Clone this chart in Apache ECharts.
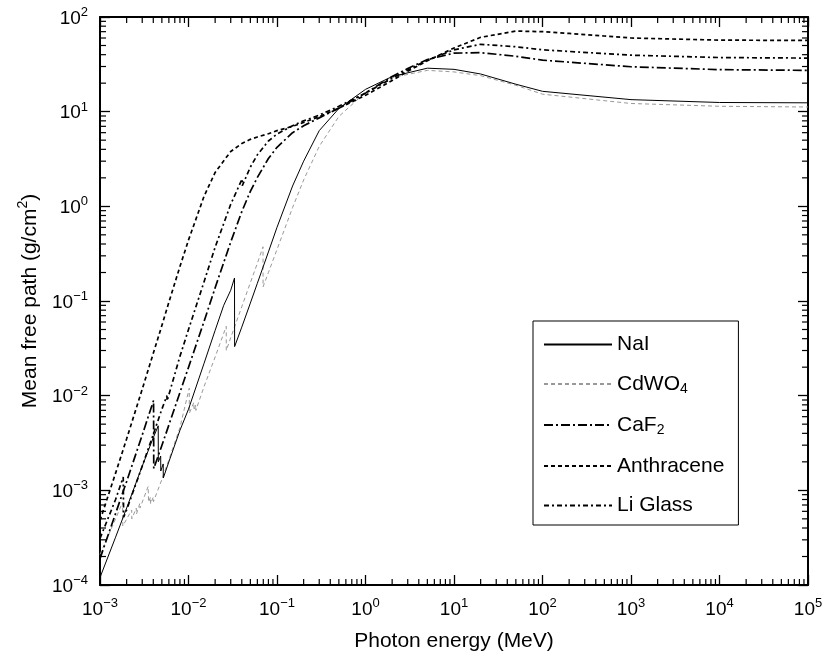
<!DOCTYPE html>
<html>
<head>
<meta charset="utf-8">
<script src="https://cdn.jsdelivr.net/npm/echarts@6/dist/echarts.min.js"></script>
<style>
html,body{margin:0;padding:0;background:#fff;}
#c{width:826px;height:657px;}
</style>
</head>
<body>
<div id="c"></div>
<script>
// ---- Data (photon energy in MeV, mean free path in g/cm^2) ----
const naiE = [0.001,0.0015,0.002,0.003,0.004,0.00455,0.00456,0.00485,0.00486,0.00518,0.00519,0.006,0.008,0.01,0.015,0.02,0.025,0.03,0.0331,0.0332,0.04,0.05,0.06,0.08,0.1,0.15,0.2,0.3,0.5,1,2,5,10,20,50,100,1000,10000,100000];
const naiV = [1.2e-4,3.2e-4,6.5e-4,1.8e-3,3.6e-3,4.8e-3,2.0e-3,2.3e-3,1.6e-3,1.9e-3,1.35e-3,2.0e-3,4.3e-3,7.2e-3,2.2e-2,4.9e-2,9.0e-2,0.13,0.175,0.033,0.053,0.095,0.154,0.33,0.6,1.64,3.0,6.3,10.8,17.2,23.5,28.8,28.0,25.0,19.5,16.4,13.4,12.5,12.4];

const cdwoE = [0.001,0.0015,0.0018,0.00181,0.00228,0.00229,0.00257,0.00258,0.00282,0.00283,0.0035,0.00354,0.00372,0.00373,0.004,0.00402,0.005,0.006,0.008,0.0102,0.01021,0.0115,0.01155,0.0121,0.01211,0.015,0.02,0.0267,0.02672,0.03,0.04,0.05,0.06,0.0695,0.0696,0.08,0.1,0.15,0.2,0.3,0.5,1,2,5,10,20,50,100,1000,10000,100000];
const cdwoV = [2.1e-4,5.0e-4,7.5e-4,4.2e-4,6.2e-4,5.0e-4,6.5e-4,5.6e-4,7.3e-4,6.5e-4,1.1e-3,7.5e-4,8.5e-4,7.2e-4,8.5e-4,7.6e-4,1.3e-3,2.1e-3,4.6e-3,1.2e-2,6.5e-3,8.5e-3,7.0e-3,8.0e-3,7.0e-3,1.25e-2,2.56e-2,5.4e-2,3.0e-2,4.1e-2,8.7e-2,0.156,0.25,0.374,0.141,0.2,0.35,0.97,1.9,4.3,8.9,16,22.9,27.3,26.3,24.0,19.0,15.3,12.2,11.4,11.2];

const caf2E = [0.001,0.0015,0.002,0.003,0.00403,0.00405,0.005,0.006,0.008,0.01,0.015,0.02,0.03,0.04,0.05,0.06,0.08,0.1,0.15,0.2,0.3,0.5,1,2,3,5,10,20,50,100,1000,10000,100000];
const caf2V = [1.9e-4,5.7e-4,1.24e-3,3.84e-3,8.9e-3,1.7e-3,2.98e-3,4.9e-3,1.08e-2,1.99e-2,6.1e-2,0.138,0.42,0.88,1.44,2.02,3.2,4.2,6.0,7.1,8.6,10.9,15.7,23.5,28.6,35.5,41.5,42,38.5,35,29.8,27.8,27.3];

const anthE = [0.001,0.0015,0.002,0.003,0.004,0.005,0.006,0.008,0.01,0.015,0.02,0.03,0.04,0.05,0.06,0.08,0.1,0.15,0.2,0.3,0.5,1,2,3,5,10,20,50,100,200,500,1000,10000,100000];
const anthV = [4.8e-4,1.52e-3,3.5e-3,1.17e-2,2.8e-2,5.5e-2,9.7e-2,0.231,0.44,1.28,2.28,3.8,4.6,5.1,5.4,5.85,6.3,7.0,7.7,8.85,10.9,14.9,21.3,26.7,34.5,47,61,71,70,67,63,60,57,56.5];

const liE = [0.001,0.0015,0.00183,0.00185,0.002,0.003,0.004,0.005,0.0057,0.00573,0.008,0.01,0.015,0.02,0.03,0.0404,0.0405,0.05,0.06,0.08,0.1,0.15,0.2,0.3,0.5,1,2,3,5,10,20,50,100,1000,10000,100000];
const liV = [3.1e-4,8.0e-4,1.38e-3,5.2e-4,6.2e-4,1.8e-3,3.9e-3,7.2e-3,1.0e-2,8.8e-3,2.6e-2,5.0e-2,0.16,0.37,1.05,1.95,1.65,2.6,3.5,4.9,5.8,7.1,8.0,9.2,11.4,15.7,22.5,27.5,35,45,51.5,48.5,45,39.5,37.3,36.8];

const xTickExps = [-3,-2,-1,0,1,2,3,4,5];
const yTickExps = [-4,-3,-2,-1,0,1,2];
const minorMult = [2,3,4,5,6,7,8,9];

const pairs = (E, V) => E.map((e, i) => [e, V[i]]);
const minorX = []; xTickExps.slice(0, -1).forEach(d => minorMult.forEach(m => minorX.push(m * Math.pow(10, d))));
const minorY = []; yTickExps.slice(0, -1).forEach(d => minorMult.forEach(m => minorY.push(m * Math.pow(10, d))));

const FONT = 'Liberation Sans, Arial, Helvetica, sans-serif';
const supLabel = v => {
  const e = Math.round(Math.log10(v));
  return '{b|10}{s|' + (e < 0 ? '\u2212' + (-e) : String(e)) + '}';
};
const labelRich = {
  b: {fontSize: 19, fontFamily: FONT, color: '#000', lineHeight: 22, verticalAlign: 'bottom'},
  s: {fontSize: 13, fontFamily: FONT, color: '#000', lineHeight: 13, verticalAlign: 'top'}
};

const chart = echarts.init(document.getElementById('c'), null, {renderer: 'canvas'});
const XMIN = 1e-3, XMAX = 1e5, YMIN = 1e-4, YMAX = 1e2;

const baseAxis = {
  type: 'log', logBase: 10,
  axisLine: {show: true, onZero: false, lineStyle: {color: '#000', width: 2}},
  axisTick: {show: true, inside: true, length: 10, lineStyle: {color: '#000', width: 1.3}},
  splitLine: {show: false},
  minorTick: {show: false}
};

const option = {
  animation: false,
  backgroundColor: '#fff',
  grid: {left: 100, right: 18, top: 17, bottom: 70, containLabel: false},
  legend: {
    show: true,
    orient: 'vertical',
    left: 533, top: 321,
    padding: [13, 14, 9, 10],
    itemWidth: 68, itemHeight: 16, itemGap: 18.5,
    borderColor: '#000', borderWidth: 1,
    itemStyle: {opacity: 0},
    data: ['NaI', 'CdWO4', 'CaF2', 'Anthracene', 'Li Glass'],
    formatter: name => {
      if (name === 'CdWO4') return '{n|CdWO}{sub|4}';
      if (name === 'CaF2') return '{n|CaF}{sub|2}';
      return '{n|' + name + '}';
    },
    textStyle: {
      fontFamily: FONT, fontSize: 21, color: '#000',
      rich: {
        n: {fontSize: 21, fontFamily: FONT, color: '#000'},
        sub: {fontSize: 14, fontFamily: FONT, color: '#000', padding: [10, 0, 0, 0]}
      }
    }
  },
  xAxis: [
    Object.assign({}, baseAxis, {
      position: 'bottom', min: XMIN, max: XMAX, splitNumber: 8,
      axisLabel: {show: true, margin: 12, formatter: supLabel, rich: labelRich, showMinLabel: true, showMaxLabel: true},
      name: 'Photon energy (MeV)', nameLocation: 'middle', nameGap: 46,
      nameTextStyle: {fontFamily: FONT, fontSize: 21, color: '#000'}
    }),
    Object.assign({}, baseAxis, {
      position: 'top', min: XMIN, max: XMAX, splitNumber: 8,
      axisLabel: {show: false}
    })
  ],
  yAxis: [
    Object.assign({}, baseAxis, {
      position: 'left', min: YMIN, max: YMAX, splitNumber: 6,
      axisLabel: {show: true, margin: 12, formatter: supLabel, rich: labelRich, showMinLabel: true, showMaxLabel: true},
      name: '{t|Mean free path (g/cm}{u|2}{t|)}', nameLocation: 'middle', nameGap: 59, nameRotate: 90,
      nameTextStyle: {
        fontFamily: FONT, fontSize: 21, color: '#000',
        rich: {
          t: {fontFamily: FONT, fontSize: 21, color: '#000', lineHeight: 25, verticalAlign: 'bottom'},
          u: {fontFamily: FONT, fontSize: 14, color: '#000', lineHeight: 14, verticalAlign: 'top'}
        }
      }
    }),
    Object.assign({}, baseAxis, {
      position: 'right', min: YMIN, max: YMAX, splitNumber: 6,
      axisLabel: {show: false}
    })
  ],
  series: [
    {name: 'NaI', type: 'line', data: pairs(naiE, naiV), symbol: 'none', showSymbol: false,
     lineStyle: {color: '#000', width: 1, type: 'solid'}, itemStyle: {color: '#000'}, z: 5},
    {name: 'CdWO4', type: 'line', data: pairs(cdwoE, cdwoV), symbol: 'none', showSymbol: false,
     lineStyle: {color: '#999', width: 1, type: [4, 3]}, itemStyle: {color: '#999'}, z: 4},
    {name: 'CaF2', type: 'line', data: pairs(caf2E, caf2V), symbol: 'none', showSymbol: false,
     lineStyle: {color: '#000', width: 1.7, type: [9, 3, 2, 3]}, itemStyle: {color: '#000'}, z: 5},
    {name: 'Anthracene', type: 'line', data: pairs(anthE, anthV), symbol: 'none', showSymbol: false,
     lineStyle: {color: '#000', width: 1.7, type: [4, 3]}, itemStyle: {color: '#000'}, z: 5},
    {name: 'Li Glass', type: 'line', data: pairs(liE, liV), symbol: 'none', showSymbol: false,
     lineStyle: {color: '#000', width: 1.7, type: [5, 3, 2, 3]}, itemStyle: {color: '#000'}, z: 5},
    {
      name: 'minorX', type: 'custom', coordinateSystem: 'cartesian2d', xAxisIndex: 0, yAxisIndex: 0,
      data: minorX.map(v => [v, 1]), clip: false, silent: true, z: 10,
      renderItem: (params, api) => {
        const v = api.value(0);
        const b = api.coord([v, YMIN]), t = api.coord([v, YMAX]);
        const st = {stroke: '#000', lineWidth: 1.2};
        return {type: 'group', children: [
          {type: 'line', shape: {x1: b[0], y1: b[1], x2: b[0], y2: b[1] - 6}, style: st},
          {type: 'line', shape: {x1: t[0], y1: t[1], x2: t[0], y2: t[1] + 6}, style: st}
        ]};
      }
    },
    {
      name: 'minorY', type: 'custom', coordinateSystem: 'cartesian2d', xAxisIndex: 0, yAxisIndex: 0,
      data: minorY.map(v => [1, v]), clip: false, silent: true, z: 10,
      renderItem: (params, api) => {
        const v = api.value(1);
        const l = api.coord([XMIN, v]), r = api.coord([XMAX, v]);
        const st = {stroke: '#000', lineWidth: 1.2};
        return {type: 'group', children: [
          {type: 'line', shape: {x1: l[0], y1: l[1], x2: l[0] + 6, y2: l[1]}, style: st},
          {type: 'line', shape: {x1: r[0], y1: r[1], x2: r[0] - 6, y2: r[1]}, style: st}
        ]};
      }
    }
  ]
};
chart.setOption(option);
</script>
</body>
</html>
